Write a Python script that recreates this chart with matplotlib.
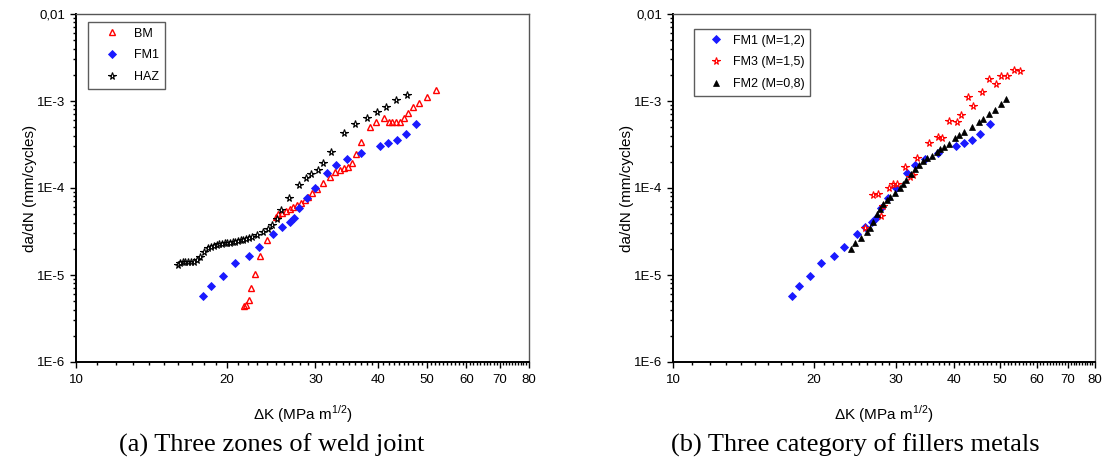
import numpy as np
import matplotlib
matplotlib.use("Agg")
import matplotlib.pyplot as plt
from matplotlib.ticker import FixedLocator, NullFormatter, FixedFormatter

plt.rcParams['font.family'] = ['Liberation Sans', 'DejaVu Sans']

# ---------------- data (a) ----------------
bm_k = [21.62, 21.82, 22.09, 22.36, 22.71, 23.31, 24.03, 25.01, 25.31, 25.71, 26.22, 26.71,
        27.12, 27.62, 28.05, 28.57, 29.05, 29.59, 30.28, 31.12, 32.05, 32.85, 33.60, 34.27,
        34.91, 35.50, 36.16, 37.05, 38.61, 39.69, 41.18, 42.02, 42.72, 43.51, 44.31, 45.13,
        45.97, 47.04, 48.35, 50.03, 52.21]
bm_v = [4.40e-6, 4.49e-6, 5.16e-6, 7.03e-6, 1.02e-5, 1.65e-5, 2.52e-5, 4.68e-5, 4.99e-5,
        5.20e-5, 5.48e-5, 5.69e-5, 6.00e-5, 6.38e-5, 6.78e-5, 7.28e-5, 7.94e-5, 8.77e-5,
        9.86e-5, 1.15e-4, 1.33e-4, 1.51e-4, 1.61e-4, 1.68e-4, 1.76e-4, 1.95e-4, 2.44e-4,
        3.38e-4, 5.03e-4, 5.78e-4, 6.33e-4, 5.78e-4, 5.78e-4, 5.78e-4, 5.78e-4, 6.38e-4,
        7.28e-4, 8.47e-4, 9.55e-4, 1.12e-3, 1.34e-3]

fm1_k = [17.94, 18.56, 19.67, 20.78, 22.12, 23.20, 24.71, 25.78, 26.67, 27.16, 27.84, 28.81,
         29.96, 31.70, 32.99, 34.65, 36.95, 40.37, 41.88, 43.58, 45.42, 47.63]
fm1_v = [5.74e-6, 7.41e-6, 9.66e-6, 1.37e-5, 1.65e-5, 2.11e-5, 2.96e-5, 3.53e-5, 4.10e-5,
         4.56e-5, 5.89e-5, 7.64e-5, 1.01e-4, 1.49e-4, 1.82e-4, 2.17e-4, 2.55e-4, 3.06e-4,
         3.29e-4, 3.59e-4, 4.14e-4, 5.40e-4]

haz_k = [15.97, 16.14, 16.32, 16.52, 16.72, 16.93, 17.17, 17.40, 17.67, 18.02, 18.36, 18.61,
         18.84, 19.08, 19.31, 19.55, 19.79, 20.03, 20.28, 20.53, 20.78, 21.04, 21.30, 21.56,
         21.82, 22.12, 22.46, 22.98, 23.56, 24.11, 24.62, 25.16, 25.66, 26.55, 27.84, 28.74,
         29.41, 30.33, 31.08, 32.24, 34.18, 35.98, 38.03, 39.77, 41.45, 43.51, 45.76]
haz_v = [1.29e-5, 1.36e-5, 1.40e-5, 1.42e-5, 1.41e-5, 1.40e-5, 1.42e-5, 1.49e-5, 1.62e-5,
         1.85e-5, 2.03e-5, 2.12e-5, 2.17e-5, 2.21e-5, 2.25e-5, 2.29e-5, 2.31e-5, 2.33e-5,
         2.35e-5, 2.39e-5, 2.41e-5, 2.46e-5, 2.51e-5, 2.55e-5, 2.60e-5, 2.66e-5, 2.76e-5,
         2.88e-5, 3.10e-5, 3.35e-5, 3.72e-5, 4.40e-5, 5.64e-5, 7.67e-5, 1.08e-4, 1.29e-4,
         1.44e-4, 1.61e-4, 1.92e-4, 2.61e-4, 4.29e-4, 5.40e-4, 6.43e-4, 7.41e-4, 8.47e-4,
         1.02e-3, 1.16e-3]

# ---------------- data (b) ----------------
fm3_k = [25.76, 26.83, 27.51, 27.87, 28.18, 29.02, 29.52, 30.11, 31.37, 32.15, 32.68, 33.33,
         35.36, 36.86, 37.70, 39.02, 40.47, 41.28, 42.72, 43.92, 45.77, 47.45, 49.05, 50.27,
         51.77, 53.59, 55.36]
fm3_v = [3.50e-5, 8.41e-5, 8.53e-5, 4.81e-5, 6.21e-5, 9.93e-5, 1.12e-4, 1.11e-4, 1.73e-4,
         1.35e-4, 1.41e-4, 2.23e-4, 3.27e-4, 3.86e-4, 3.76e-4, 5.94e-4, 5.69e-4, 6.86e-4,
         1.10e-3, 8.71e-4, 1.28e-3, 1.77e-3, 1.57e-3, 1.95e-3, 1.95e-3, 2.27e-3, 2.21e-3]

fm2_k = [24.00, 24.55, 25.21, 25.97, 26.40, 26.83, 27.37, 27.73, 28.18, 28.74, 29.20, 29.90,
         30.60, 31.06, 31.55, 32.26, 32.95, 33.56, 34.23, 34.91, 35.83, 36.67, 37.28, 38.07,
         39.02, 40.13, 41.00, 41.95, 43.63, 45.16, 46.13, 47.53, 48.88, 50.35, 51.60]
fm2_v = [1.97e-5, 2.35e-5, 2.66e-5, 3.10e-5, 3.44e-5, 4.10e-5, 4.99e-5, 5.74e-5, 6.50e-5,
         7.23e-5, 7.93e-5, 8.81e-5, 1.00e-4, 1.10e-4, 1.23e-4, 1.44e-4, 1.64e-4, 1.85e-4,
         2.04e-4, 2.19e-4, 2.35e-4, 2.57e-4, 2.79e-4, 2.99e-4, 3.21e-4, 3.76e-4, 4.04e-4,
         4.37e-4, 5.07e-4, 5.69e-4, 6.26e-4, 7.03e-4, 7.82e-4, 9.16e-4, 1.05e-3]

x_ticks = [10, 20, 30, 40, 50, 60, 70, 80]
x_ticklabels = ['10', '20', '30', '40', '50', '60', '70', '80']
y_ticks = [1e-6, 1e-5, 1e-4, 1e-3, 1e-2]
y_ticklabels = ['1E-6', '1E-5', '1E-4', '1E-3', '0,01']

BLUE = '#1a1aff'
RED = '#ff0000'

W, H = 1103, 462
fig = plt.figure(figsize=(W / 100, H / 100), dpi=100)


def make_axes(x0, x1):
    ax = fig.add_axes([x0 / W, 1 - 362 / H, (x1 - x0) / W, 348 / H])
    ax.set_xscale('log')
    ax.set_yscale('log')
    ax.set_xlim(10, 80)
    ax.set_ylim(1e-6, 1e-2)
    ax.xaxis.set_major_locator(FixedLocator(x_ticks))
    ax.xaxis.set_major_formatter(FixedFormatter(x_ticklabels))
    ax.xaxis.set_minor_locator(FixedLocator([v for v in range(11, 80) if v % 10 != 0]))
    ax.xaxis.set_minor_formatter(NullFormatter())
    ax.yaxis.set_major_locator(FixedLocator(y_ticks))
    ax.yaxis.set_major_formatter(FixedFormatter(y_ticklabels))
    ax.yaxis.set_minor_locator(FixedLocator([m * 10.0 ** e for e in range(-6, -2) for m in range(2, 10)]))
    ax.yaxis.set_minor_formatter(NullFormatter())
    ax.tick_params(which='both', direction='out', top=False, right=False, labelsize=9.5,
                   colors='black', width=1.0)
    ax.tick_params(which='major', length=4)
    ax.tick_params(which='minor', length=2.2)
    ax.tick_params(axis='x', which='major', pad=4.7)
    ax.tick_params(axis='y', which='major', pad=3.6)
    for s in ['left', 'bottom']:
        ax.spines[s].set_linewidth(1.4)
        ax.spines[s].set_color('black')
    for s in ['top', 'right']:
        ax.spines[s].set_linewidth(1.0)
        ax.spines[s].set_color('#555555')
    xc = (x0 + x1) / 2
    fig.text(xc / W, 1 - 414 / H, 'ΔK (MPa m$^{\\mathregular{1/2}}$)', fontsize=11,
             ha='center', va='center')
    fig.text((x0 - 46) / W, 1 - 188 / H, 'da/dN (mm/cycles)', fontsize=11, rotation=90,
             ha='center', va='center')
    return ax


def style_legend(leg):
    leg.get_frame().set_edgecolor('#333333')
    leg.get_frame().set_linewidth(1.0)


ax1 = make_axes(76, 529)
ax1.plot(bm_k, bm_v, linestyle='none', marker='^', ms=4.2, mfc='none', mec=RED, mew=1.0, label='BM')
ax1.plot(fm1_k, fm1_v, linestyle='none', marker='D', ms=3.8, mfc=BLUE, mec=BLUE, mew=0.6, label='FM1')
ax1.plot(haz_k, haz_v, linestyle='none', marker='*', ms=5.5, mfc='white', mec='black', mew=0.8, label='HAZ')
leg1 = ax1.legend(loc='upper left', bbox_to_anchor=((88 - 76) / 453, 1 - (22 - 14) / 348),
                  borderaxespad=0, fontsize=9, frameon=True, fancybox=False, handlelength=2.94,
                  handletextpad=0.29, labelspacing=0.78, borderpad=0.45)
style_legend(leg1)

ax2 = make_axes(673, 1095)
ax2.plot(fm1_k, fm1_v, linestyle='none', marker='D', ms=3.8, mfc=BLUE, mec=BLUE, mew=0.6, label='FM1 (M=1,2)')
ax2.plot(fm3_k, fm3_v, linestyle='none', marker='*', ms=5.5, mfc='white', mec=RED, mew=0.8, label='FM3 (M=1,5)')
ax2.plot(fm2_k, fm2_v, linestyle='none', marker='^', ms=4.5, mfc='black', mec='black', mew=0.5, label='FM2 (M=0,8)')
leg2 = ax2.legend(loc='upper left', bbox_to_anchor=((694 - 673) / 422, 1 - (29 - 14) / 348),
                  borderaxespad=0, fontsize=9, frameon=True, fancybox=False, handlelength=2.62,
                  handletextpad=0.05, labelspacing=0.78, borderpad=0.45)
style_legend(leg2)

fig.text(272 / W, 1 - 452 / H, '(a) Three zones of weld joint', ha='center', va='baseline',
         fontsize=19, family='Liberation Serif')
fig.text(855 / W, 1 - 452 / H, '(b) Three category of fillers metals', ha='center', va='baseline',
         fontsize=19, family='Liberation Serif')

fig.savefig('out.png', dpi=100, facecolor='white')
